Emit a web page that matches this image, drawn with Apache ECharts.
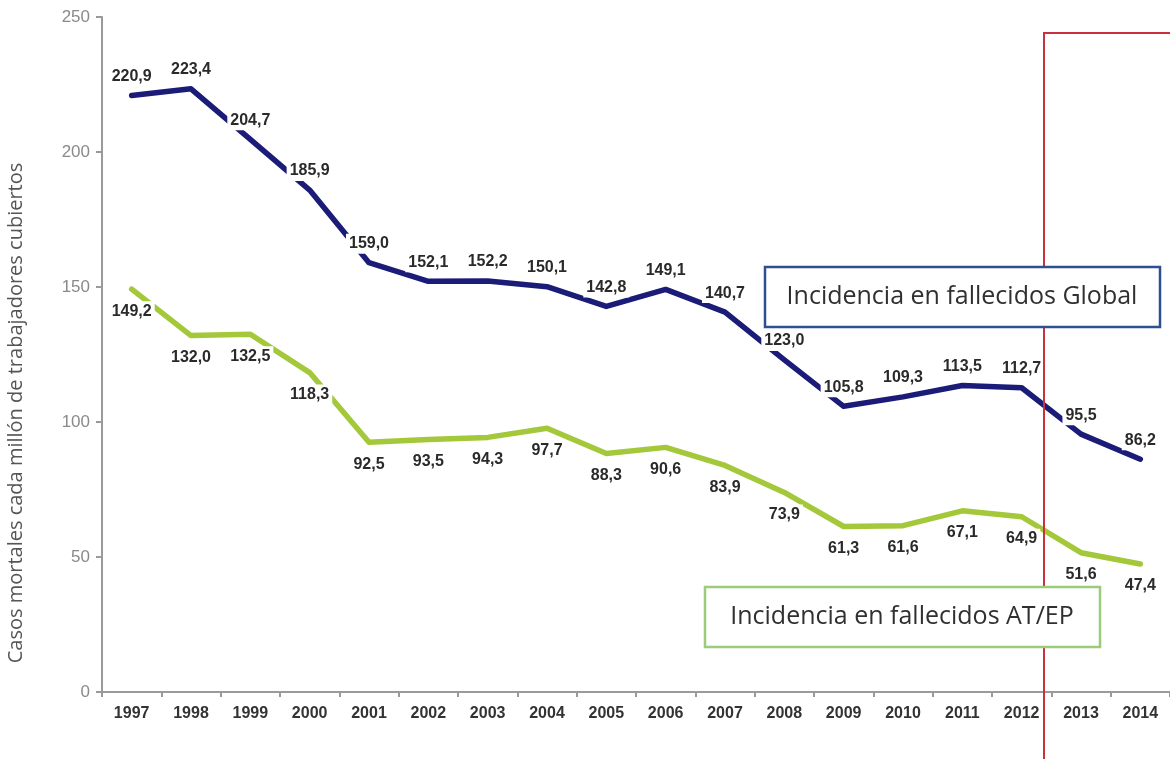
<!DOCTYPE html>
<html>
<head>
<meta charset="utf-8">
<script src="https://cdn.jsdelivr.net/npm/echarts@6/dist/echarts.min.js"></script>
<style>
  html, body { margin: 0; padding: 0; background: #fff; }
  #chart { width: 1170px; height: 759px; }
</style>
</head>
<body>
<div id="chart"></div>
<script>
// Fatal cases per million covered workers, 1997-2014
const years = ['1997','1998','1999','2000','2001','2002','2003','2004','2005',
               '2006','2007','2008','2009','2010','2011','2012','2013','2014'];
const globalRate = [220.9, 223.4, 204.7, 185.9, 159.0, 152.1, 152.2, 150.1, 142.8,
                    149.1, 140.7, 123.0, 105.8, 109.3, 113.5, 112.7, 95.5, 86.2];
const atepRate = [149.2, 132.0, 132.5, 118.3, 92.5, 93.5, 94.3, 97.7, 88.3,
                  90.6, 83.9, 73.9, 61.3, 61.6, 67.1, 64.9, 51.6, 47.4];
const yTicks = [0, 50, 100, 150, 200, 250];
const yTitle = 'Casos mortales cada millón de trabajadores cubiertos';

const fmt = v => v.toFixed(1).replace('.', ',');

const labelStyle = {
  show: true,
  formatter: p => fmt(p.value),
  fontFamily: 'Liberation Sans, Arial, sans-serif',
  fontWeight: 'bold',
  fontSize: 16,
  color: '#2a2a2a',
  backgroundColor: '#ffffff',
  padding: [2, 3]
};

const chart = echarts.init(document.getElementById('chart'), null, { renderer: 'canvas' });

chart.setOption({
  animation: false,
  backgroundColor: '#ffffff',
  grid: { left: 102, top: 17, bottom: 67, width: 1073 },
  xAxis: {
    type: 'category',
    data: years,
    boundaryGap: true,
    axisLine: { lineStyle: { color: '#9a9a9a', width: 2 } },
    axisTick: { show: true, length: 5, lineStyle: { color: '#9a9a9a', width: 2 } },
    axisLabel: {
      margin: 14,
      fontFamily: 'Liberation Sans, Arial, sans-serif',
      fontWeight: 'bold',
      fontSize: 16,
      color: '#333333'
    }
  },
  yAxis: {
    type: 'value',
    min: yTicks[0],
    max: yTicks[yTicks.length - 1],
    interval: 50,
    axisLine: { show: true, lineStyle: { color: '#9a9a9a', width: 2 } },
    axisTick: { show: true, length: 6, lineStyle: { color: '#9a9a9a', width: 2 } },
    splitLine: { show: false },
    axisLabel: {
      margin: 12,
      fontFamily: 'Liberation Sans, Arial, sans-serif',
      fontSize: 17,
      color: '#8a8a8a'
    }
  },
  series: [
    {
      name: 'Global',
      type: 'line',
      data: globalRate,
      symbol: 'circle',
      symbolSize: 2,
      itemStyle: { color: '#1b1b78' },
      lineStyle: { color: '#1b1b78', width: 5.5, cap: 'round', join: 'round' },
      label: Object.assign({}, labelStyle, { position: 'top', distance: 8 }),
      z: 3
    },
    {
      name: 'AT/EP',
      type: 'line',
      data: atepRate,
      symbol: 'circle',
      symbolSize: 2,
      itemStyle: { color: '#a3c83a' },
      lineStyle: { color: '#a3c83a', width: 5.5, cap: 'round', join: 'round' },
      label: Object.assign({}, labelStyle, { position: 'bottom', distance: 11 }),
      z: 3
    }
  ],
  graphic: [
    {
      type: 'text',
      x: 16,
      y: 413,
      rotation: Math.PI / 2,
      style: {
        text: yTitle,
        fontFamily: 'Open Sans, sans-serif',
        fontSize: 20,
        fill: '#555555',
        align: 'center',
        verticalAlign: 'middle'
      }
    },
    {
      type: 'rect',
      z: 50,
      shape: { x: 1044, y: 33, width: 200, height: 800 },
      style: { fill: 'none', stroke: '#c8323c', lineWidth: 2 }
    },
    {
      type: 'rect',
      z: 60,
      shape: { x: 765, y: 267, width: 395, height: 60 },
      style: { fill: '#ffffff', stroke: '#2f4f8f', lineWidth: 2.5 }
    },
    {
      type: 'text',
      z: 61,
      x: 962,
      y: 297,
      style: {
        text: 'Incidencia en fallecidos Global',
        fontFamily: 'Open Sans, sans-serif',
        fontSize: 25,
        fill: '#303030',
        align: 'center',
        verticalAlign: 'middle'
      }
    },
    {
      type: 'rect',
      z: 60,
      shape: { x: 705, y: 587, width: 395, height: 60 },
      style: { fill: '#ffffff', stroke: '#9ccb7a', lineWidth: 2.5 }
    },
    {
      type: 'text',
      z: 61,
      x: 902,
      y: 617,
      style: {
        text: 'Incidencia en fallecidos AT/EP',
        fontFamily: 'Open Sans, sans-serif',
        fontSize: 25,
        fill: '#303030',
        align: 'center',
        verticalAlign: 'middle'
      }
    }
  ]
});
</script>
</body>
</html>
